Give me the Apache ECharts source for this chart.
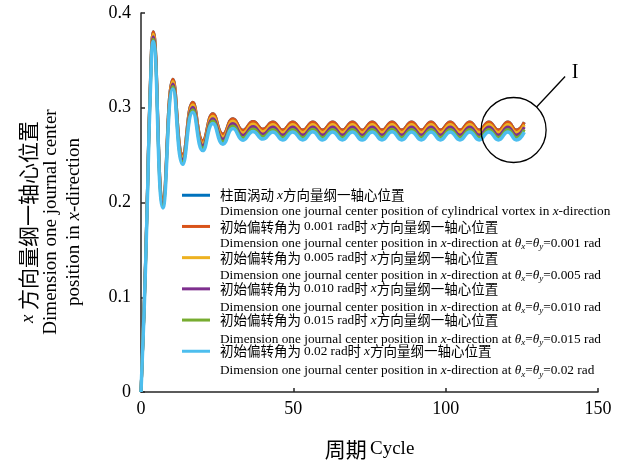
<!DOCTYPE html>
<html>
<head>
<meta charset="utf-8">
<script src="https://cdn.jsdelivr.net/npm/echarts@6/dist/echarts.min.js"></script>
<style>
  html, body { margin: 0; padding: 0; background: #fff; }
  #main { width: 626px; height: 466px; }
</style>
</head>
<body>
<div id="main"></div>
<script>
// 周期 (x) — peaks and troughs
const cycles = [0, 1, 2, 3, 4.0, 7.2, 10.5, 13.7, 17.0, 20.3, 23.6, 26.9, 30.2, 33.5, 36.8, 40.0,
  43.3, 46.5, 49.8, 53.1, 56.4, 59.6, 62.9, 66.1, 69.4, 72.6, 75.9, 79.1, 82.4, 85.6, 88.8, 92.0,
  95.2, 98.3, 101.5, 104.7, 107.9, 111.0, 114.2, 117.3, 120.4, 123.2, 125.8];

// 柱面涡动 (hidden under the others)
const vortex = [0, 0.087, 0.199, 0.320, 0.3802, 0.2047, 0.3302, 0.2507, 0.3057, 0.2652, 0.2937, 0.2720, 0.2885, 0.2762, 0.2854, 0.2773,
  0.2849, 0.2764, 0.2849, 0.2764, 0.2850, 0.2764, 0.2849, 0.2764, 0.2849, 0.2763, 0.2849, 0.2764, 0.2850, 0.2764,
  0.2849, 0.2764, 0.2849, 0.2764, 0.2849, 0.2764, 0.2849, 0.2764, 0.2849, 0.2764, 0.2849, 0.2764, 0.2847];
const rad001 = [0, 0.087, 0.199, 0.320, 0.3802, 0.2047, 0.3302, 0.2507, 0.3057, 0.2652, 0.2937, 0.2720, 0.2885, 0.2762, 0.2854, 0.2773,
  0.2849, 0.2764, 0.2849, 0.2764, 0.2850, 0.2764, 0.2849, 0.2764, 0.2849, 0.2763, 0.2849, 0.2764, 0.2850, 0.2764,
  0.2849, 0.2764, 0.2849, 0.2764, 0.2849, 0.2764, 0.2849, 0.2764, 0.2849, 0.2764, 0.2849, 0.2764, 0.2847];
const rad005 = [0, 0.086, 0.197, 0.3175, 0.3776, 0.2021, 0.3276, 0.2481, 0.3031, 0.2626, 0.2911, 0.2694, 0.2859, 0.2736, 0.2828, 0.2747,
  0.2823, 0.2738, 0.2823, 0.2738, 0.2824, 0.2738, 0.2823, 0.2738, 0.2823, 0.2737, 0.2823, 0.2738, 0.2824, 0.2738,
  0.2823, 0.2738, 0.2823, 0.2738, 0.2823, 0.2738, 0.2823, 0.2738, 0.2823, 0.2738, 0.2823, 0.2738, 0.2821];
const rad010 = [0, 0.085, 0.195, 0.315, 0.375, 0.1995, 0.325, 0.2455, 0.3005, 0.260, 0.2885, 0.2668, 0.2833, 0.2710, 0.2802, 0.2721,
  0.2797, 0.2712, 0.2797, 0.2712, 0.2798, 0.2712, 0.2797, 0.2712, 0.2797, 0.2711, 0.2797, 0.2712, 0.2798, 0.2712,
  0.2797, 0.2712, 0.2797, 0.2712, 0.2797, 0.2712, 0.2797, 0.2712, 0.2797, 0.2712, 0.2797, 0.2712, 0.2795];
const rad015 = [0, 0.084, 0.193, 0.3125, 0.3724, 0.1969, 0.3224, 0.2429, 0.2979, 0.2574, 0.2859, 0.2642, 0.2807, 0.2684, 0.2776, 0.2695,
  0.2771, 0.2686, 0.2771, 0.2686, 0.2772, 0.2686, 0.2771, 0.2686, 0.2771, 0.2685, 0.2771, 0.2686, 0.2772, 0.2686,
  0.2771, 0.2686, 0.2771, 0.2686, 0.2771, 0.2686, 0.2771, 0.2686, 0.2771, 0.2686, 0.2771, 0.2686, 0.2769];
const rad020 = [0, 0.083, 0.191, 0.310, 0.3698, 0.1943, 0.3198, 0.2403, 0.2953, 0.2548, 0.2833, 0.2616, 0.2781, 0.2658, 0.2750, 0.2669,
  0.2745, 0.2660, 0.2745, 0.2660, 0.2746, 0.2660, 0.2745, 0.2660, 0.2745, 0.2659, 0.2745, 0.2660, 0.2746, 0.2660,
  0.2745, 0.2660, 0.2745, 0.2660, 0.2745, 0.2660, 0.2745, 0.2660, 0.2745, 0.2660, 0.2745, 0.2660, 0.2743];

const xTicks = [0, 50, 100, 150];
const yTicks = [0, 0.1, 0.2, 0.3, 0.4];

const seriesNames = ['柱面涡动x方向量纲一轴心位置', '初始偏转角为0.001 rad时x方向量纲一轴心位置',
  '初始偏转角为0.005 rad时x方向量纲一轴心位置', '初始偏转角为0.010 rad时x方向量纲一轴心位置',
  '初始偏转角为0.015 rad时x方向量纲一轴心位置', '初始偏转角为0.02 rad时x方向量纲一轴心位置'];
const legendLabels = [
  '{sp| }{c|柱面涡动 }{i|x}{c|方向量纲一轴心位置}',
  '{sp| }{c|初始偏转角为 }{n|0.001 rad}{c|时 }{i|x}{c|方向量纲一轴心位置}',
  '{sp| }{c|初始偏转角为 }{n|0.005 rad}{c|时 }{i|x}{c|方向量纲一轴心位置}',
  '{sp| }{c|初始偏转角为 }{n|0.010 rad}{c|时 }{i|x}{c|方向量纲一轴心位置}',
  '{sp| }{c|初始偏转角为 }{n|0.015 rad}{c|时 }{i|x}{c|方向量纲一轴心位置}',
  '{sp| }{c|初始偏转角为 }{n|0.02 rad}{c|时 }{i|x}{c|方向量纲一轴心位置}'];
const englishLabels = [
  'Dimension one journal center position of cylindrical vortex in {i|x}-direction',
  'Dimension one journal center position in {i|x}-direction at {i|θ}{s|x}={i|θ}{s|y}=0.001 rad',
  'Dimension one journal center position in {i|x}-direction at {i|θ}{s|x}={i|θ}{s|y}=0.005 rad',
  'Dimension one journal center position in {i|x}-direction at {i|θ}{s|x}={i|θ}{s|y}=0.010 rad',
  'Dimension one journal center position in {i|x}-direction at {i|θ}{s|x}={i|θ}{s|y}=0.015 rad',
  'Dimension one journal center position in {i|x}-direction at {i|θ}{s|x}={i|θ}{s|y}=0.02 rad'];
const colors = ['#0072BD', '#D95319', '#EDB120', '#7E2F8E', '#77AC30', '#4DBEEE'];
const seriesValues = [vortex, rad001, rad005, rad010, rad015, rad020];

const SERIF = '"Liberation Serif", "Times New Roman", serif';
const CJK = '"Noto Sans CJK SC", sans-serif';

function pair(vals) {
  return cycles.map(function (c, i) { return [c, vals[i]]; });
}

var chart = echarts.init(document.getElementById('main'));

chart.setOption({
  animation: false,
  color: colors,
  grid: { left: 141, right: 28, top: 13, bottom: 74, containLabel: false, outerBoundsMode: 'none' },
  xAxis: {
    type: 'value',
    min: xTicks[0], max: xTicks[xTicks.length - 1], interval: 50,
    axisLine: { lineStyle: { color: '#262626', width: 1.5 } },
    axisTick: { inside: true, length: 4, lineStyle: { color: '#262626', width: 1.5 } },
    axisLabel: { color: '#000', fontFamily: SERIF, fontSize: 18, margin: 8 },
    splitLine: { show: false },
    name: '{c|周期} {n|Cycle}',
    nameLocation: 'middle',
    nameGap: 47,
    nameTextStyle: {
      rich: {
        c: { fontFamily: CJK, fontSize: 21, color: '#000' },
        n: { fontFamily: SERIF, fontSize: 19, color: '#000' }
      }
    }
  },
  yAxis: {
    type: 'value',
    min: yTicks[0], max: yTicks[yTicks.length - 1], interval: 0.1,
    axisLine: { show: true, lineStyle: { color: '#262626', width: 1.5 } },
    axisTick: { show: true, inside: true, length: 4, lineStyle: { color: '#262626', width: 1.5 } },
    axisLabel: { color: '#000', fontFamily: SERIF, fontSize: 18, margin: 10 },
    splitLine: { show: false }
  },
  legend: {
    orient: 'vertical',
    left: 182,
    top: 188.5,
    icon: 'rect',
    itemWidth: 28,
    itemHeight: 3,
    itemGap: 17.7,
    padding: 0,
    data: seriesNames,
    formatter: function (name) { return legendLabels[seriesNames.indexOf(name)]; },
    textStyle: {
      rich: {
        sp: { width: 5, lineHeight: 14 },
        c: { fontFamily: CJK, fontSize: 13.5, color: '#000', lineHeight: 14 },
        n: { fontFamily: SERIF, fontSize: 13.3, color: '#000', lineHeight: 14 },
        i: { fontFamily: SERIF, fontStyle: 'italic', fontSize: 13.3, color: '#000', lineHeight: 14 }
      }
    }
  },
  series: seriesValues.map(function (vals, k) {
    return {
      name: seriesNames[k],
      type: 'line',
      data: pair(vals),
      symbol: 'none',
      smooth: 0.5,
      lineStyle: { width: k === 5 ? 3.5 : 3, color: colors[k] },
      itemStyle: { color: colors[k] }
    };
  })
});

// 局部放大标记 I
var ctr = chart.convertToPixel({ gridIndex: 0 }, [122.3, 0.2765]);
var r = 32.5;

var engRich = {
  i: { fontFamily: SERIF, fontStyle: 'italic', fontSize: 13.3, lineHeight: 16, color: '#000' },
  s: { fontFamily: SERIF, fontStyle: 'italic', fontSize: 9, lineHeight: 16, verticalAlign: 'bottom', color: '#000' }
};

var graphics = englishLabels.map(function (t, i) {
  return {
    type: 'text', x: 220, y: 211.5 + 31.9 * i, silent: true,
    style: { text: t, fontFamily: SERIF, fontSize: 13.3, lineHeight: 16, fill: '#000',
      align: 'left', verticalAlign: 'middle', rich: engRich }
  };
});

graphics.push({
  type: 'text', x: 51, y: 222, rotation: Math.PI / 2, silent: true,
  style: {
    text: '{i|x}{c| 方向量纲一轴心位置}\n{n|Dimension one journal center}\n{n|position in }{i|x}{n|-direction}',
    align: 'center', verticalAlign: 'middle', fill: '#000',
    rich: {
      i: { fontFamily: SERIF, fontStyle: 'italic', fontSize: 19, lineHeight: 23, color: '#000' },
      c: { fontFamily: CJK, fontSize: 21, lineHeight: 23, color: '#000' },
      n: { fontFamily: SERIF, fontSize: 19, lineHeight: 23, color: '#000' }
    }
  }
});

graphics.push({
  type: 'circle', silent: true, z: 10,
  shape: { cx: ctr[0], cy: ctr[1], r: r },
  style: { fill: 'none', stroke: '#000', lineWidth: 1.3 }
});
graphics.push({
  type: 'line', silent: true, z: 10,
  shape: { x1: ctr[0] + r * 0.707, y1: ctr[1] - r * 0.707, x2: ctr[0] + 51.5, y2: ctr[1] - 53.5 },
  style: { stroke: '#000', lineWidth: 1.3 }
});
graphics.push({
  type: 'text', x: ctr[0] + 61.5, y: ctr[1] - 57, silent: true,
  style: { text: 'I', fontFamily: SERIF, fontSize: 20, fill: '#000', align: 'center', verticalAlign: 'middle' }
});

chart.setOption({ graphic: graphics });
</script>
</body>
</html>
